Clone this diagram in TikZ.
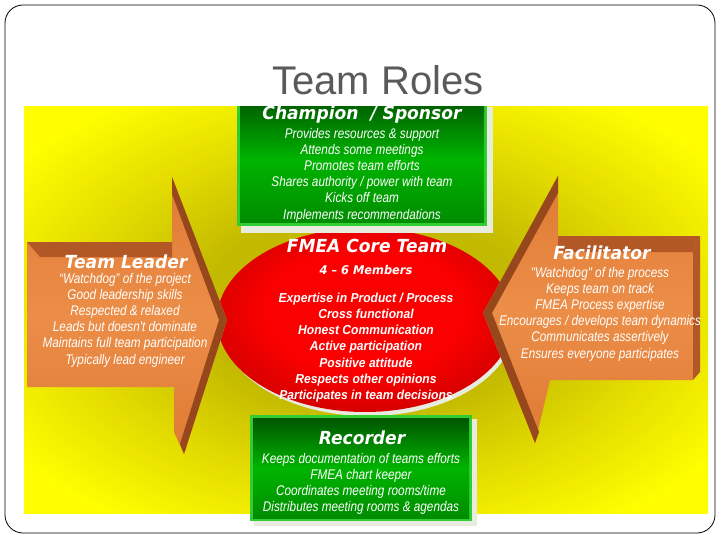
\documentclass[tikz,border=0pt]{standalone}
\usepackage{fontspec}
\setmainfont{Liberation Sans}
\newfontfamily\smallf{Liberation Sans}[FakeStretch=0.84]
\newfontfamily\headf{DejaVu Sans}[FakeStretch=0.95]
\newfontfamily\listf{Liberation Sans}[FakeStretch=0.93]
\definecolor{ydark}{RGB}{195,185,0}
\definecolor{ymid}{RGB}{226,218,0}
\definecolor{ybright}{RGB}{255,253,0}
\definecolor{rbright}{RGB}{250,0,0}
\definecolor{rmid}{RGB}{210,0,0}
\definecolor{rdark}{RGB}{140,0,0}
\definecolor{gdark}{RGB}{0,85,0}
\definecolor{gmid}{RGB}{0,140,0}
\definecolor{gbright}{RGB}{0,180,0}
\definecolor{gbord}{RGB}{50,205,50}
\definecolor{shadowc}{RGB}{232,236,222}
\definecolor{orng}{RGB}{222,122,52}
\definecolor{orngl}{RGB}{236,142,72}
\definecolor{bevel}{RGB}{178,88,38}
\definecolor{brownc}{RGB}{150,72,28}
\definecolor{titlegray}{RGB}{90,90,90}
\pgfdeclareradialshading{yelsh}{\pgfpoint{0bp}{0bp}}{color(0bp)=(ydark); color(12bp)=(ydark); color(21bp)=(ymid); color(31bp)=(ybright); color(50bp)=(ybright)}
\pgfdeclareradialshading{redsh}{\pgfpoint{0bp}{4bp}}{color(0bp)=(rbright); color(17bp)=(rbright); color(28bp)=(rmid); color(36bp)=(rdark); color(50bp)=(rdark)}
\begin{document}
\begin{tikzpicture}[x=1pt,y=-1pt,
  smalltxt/.style={text=white, align=center, font=\smallf\itshape\fontsize{14}{16.2}\selectfont, inner sep=0pt},
  headtxt/.style={text=white, font=\headf\bfseries\itshape\fontsize{18}{20}\selectfont, inner sep=0pt},
  listtxt/.style={text=white, align=center, font=\listf\bfseries\itshape\fontsize{13}{16.2}\selectfont, inner sep=0pt},
  orangeface/.style={top color=orng, bottom color=orng, middle color=orngl},
  bevelface/.style={fill=bevel},
  sideface/.style={fill=brownc}]
\useasboundingbox (0,0) rectangle (720,540);
\fill[white] (0,0) rectangle (720,540);
\draw[black, line width=0.8pt, rounded corners=18pt] (5,5) rectangle (715,533);
\node[text=titlegray, font=\fontsize{40}{44}\selectfont, inner sep=0pt] (title) at (378,80) {Team Roles};
% background
\shade[shading=yelsh] (24,107) rectangle (708,513);
% central ellipse
\fill[shadowc] (368,324) ellipse [x radius=147, y radius=92];
\shade[shading=redsh] (365,320) ellipse [x radius=148, y radius=92];
\node[headtxt] (core) at (367,246) {FMEA Core Team};
\node[headtxt, font=\headf\bfseries\itshape\fontsize{12}{14}\selectfont] (members) at (366,270) {4 – 6 Members};
\node[listtxt] (corelist) at (366,347.5) {Expertise in Product / Process\\Cross functional\\Honest Communication\\Active participation\\Positive attitude\\Respects other opinions\\Participates in team decisions};
% top box
\fill[shadowc] (241,107) rectangle (493,233);
\begin{scope}
\clip (24,107) rectangle (708,540);
\fill[gbord] (237,96) rectangle (487,226);
\shade[top color=gdark, bottom color=gmid, middle color=gbright] (240,96) rectangle (484,223);
\node[headtxt] (champ) at (362,115) {Champion~~/ Sponsor};
\end{scope}
\node[smalltxt] (champtxt) at (362,175) {Provides resources \& support\\Attends some meetings\\Promotes team efforts\\Shares authority / power with team\\Kicks off team\\Implements recommendations};
% bottom box
\fill[shadowc] (254,419) rectangle (477,526);
\fill[gbord] (250,415) rectangle (472,521);
\shade[top color=gdark, bottom color=gmid, middle color=gbright] (253,418) rectangle (469,518);
\node[headtxt] (rec) at (362,438) {Recorder};
\node[smalltxt] (rectxt) at (361,484) {Keeps documentation of teams efforts\\FMEA chart keeper\\Coordinates meeting rooms/time\\Distributes meeting rooms \& agendas};
% left arrow
\shade[orangeface] (27,242) -- (172,242) -- (172,177) -- (227,320) -- (184,454) -- (174,432) -- (174,387) -- (27,387) -- cycle;
\fill[bevelface] (27,242) -- (172,242) -- (172,257) -- (40,257) -- cycle;
\fill[sideface] (172,177) -- (227,320) -- (219,320) -- (172,194) -- cycle;
\fill[sideface] (227,320) -- (184,454) -- (180,444) -- (219,320) -- cycle;
\node[headtxt] (lead) at (126,262) {Team Leader};
\node[smalltxt] (leadtxt) at (125,320) {“Watchdog” of the project\\Good leadership skills\\Respected \& relaxed\\Leads but doesn't dominate\\Maintains full team participation\\Typically lead engineer};
% right arrow
\shade[orangeface] (693,252) -- (693,380) -- (550,380) -- (535,443) -- (483,313) -- (558,176) -- (558,252) -- cycle;
\fill[bevelface] (558,236) -- (700,236) -- (693,252) -- (558,252) -- cycle;
\fill[bevelface] (693,252) -- (700,236) -- (700,372) -- (693,380) -- cycle;
\fill[sideface] (558,176) -- (483,313) -- (492,313) -- (558,193) -- cycle;
\fill[sideface] (483,313) -- (535,443) -- (539,432) -- (492,313) -- cycle;
\node[headtxt] (facil) at (602,253) {Facilitator};
\node[smalltxt] (faciltxt) at (600,314) {"Watchdog" of the process\\Keeps team on track\\FMEA Process expertise\\Encourages / develops team dynamics\\Communicates assertively\\Ensures everyone participates};
\end{tikzpicture}
\end{document}
